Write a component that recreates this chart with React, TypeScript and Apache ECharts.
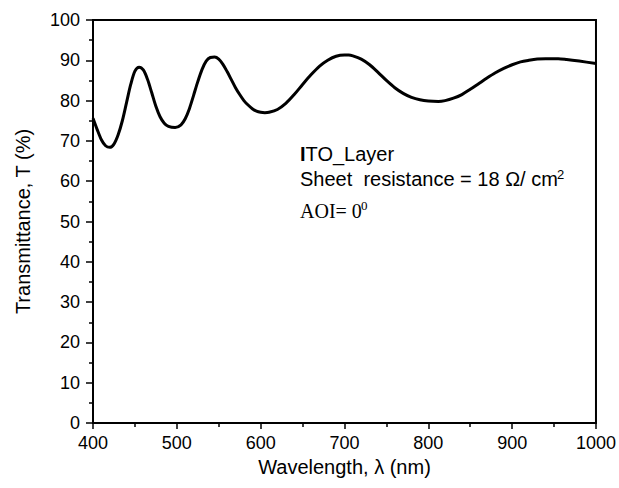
import React, { useEffect, useRef } from "react";
import * as echarts from "echarts";

const wavelengths = [
  400, 405, 410, 415, 420, 425, 430, 435, 440, 445, 450, 455, 460, 465, 470, 475, 480, 485, 490, 498,
  505, 510, 515, 520, 525, 530, 535, 540, 545, 550, 555, 560, 565, 570, 575, 580, 585, 590, 595, 600,
  605, 610, 620, 630, 640, 650, 660, 670, 680, 690, 700, 705, 710, 720, 730, 740, 750, 760, 770, 780,
  790, 800, 812, 820, 830, 840, 850, 860, 870, 880, 890, 900, 910, 920, 930, 940, 955, 965, 980, 1000,
];
const transmittance = [
  75.6, 72.8, 70.3, 68.8, 68.4, 69.2, 71.5, 75.0, 79.5, 84.0, 87.3, 88.3, 87.6, 85.3, 82.0, 78.6, 76.0, 74.4, 73.6, 73.3,
  74.0, 75.5, 78.0, 81.3, 84.7, 87.7, 89.8, 90.7, 90.8, 90.3, 89.0, 87.2, 85.2, 83.2, 81.5, 80.0, 78.9, 78.0, 77.4, 77.1,
  77.0, 77.1, 77.8, 79.3, 81.5, 84.0, 86.4, 88.5, 90.0, 91.0, 91.3, 91.3, 91.1, 90.3, 88.9, 87.0, 85.0, 83.2, 81.8, 80.8,
  80.2, 79.9, 79.8, 80.0, 80.6, 81.5, 82.8, 84.2, 85.6, 86.9, 88.0, 88.9, 89.6, 90.0, 90.3, 90.4, 90.4, 90.2, 89.8, 89.2,
];

const xTitle = "Wavelength, \u03bb (nm)";
const yTitle = "Transmittance, T (%)";

export default function App() {
  const ref = useRef<HTMLDivElement>(null);
  useEffect(() => {
    if (!ref.current) return;
    const chart = echarts.init(ref.current, undefined, { renderer: "svg" });
    const font = "Arial, 'Liberation Sans', sans-serif";
    const serif = "'Times New Roman', 'Liberation Serif', serif";
    chart.setOption({
      animation: false,
      backgroundColor: "#fff",
      grid: {
        left: 93,
        right: 21,
        top: 20,
        bottom: 65,
        show: true,
        borderColor: "#000",
        borderWidth: 2,
      },
      xAxis: {
        type: "value",
        min: 400,
        max: 1000,
        interval: 100,
        name: xTitle,
        nameLocation: "middle",
        nameGap: 33,
        nameTextStyle: { fontFamily: font, fontSize: 20, color: "#000" },
        axisLine: { lineStyle: { color: "#000", width: 2 } },
        axisTick: { show: true, inside: false, length: 6, lineStyle: { color: "#000", width: 1.5 } },
        minorTick: { show: true, splitNumber: 2, length: 4, lineStyle: { color: "#000", width: 1.5 } },
        axisLabel: { fontFamily: font, fontSize: 18, color: "#000", margin: 11, formatter: (v: number) => String(v) },
        splitLine: { show: false },
      },
      yAxis: {
        type: "value",
        min: 0,
        max: 100,
        interval: 10,
        name: yTitle,
        nameLocation: "middle",
        nameGap: 60,
        nameTextStyle: { fontFamily: font, fontSize: 20, color: "#000" },
        axisLine: { lineStyle: { color: "#000", width: 2 } },
        axisTick: { show: true, inside: false, length: 7, lineStyle: { color: "#000", width: 1.5 } },
        minorTick: { show: true, splitNumber: 2, length: 4, lineStyle: { color: "#000", width: 1.5 } },
        axisLabel: { fontFamily: font, fontSize: 18, color: "#000", margin: 13 },
        splitLine: { show: false },
      },
      series: [
        {
          type: "line",
          data: wavelengths.map((w, i) => [w, transmittance[i]]),
          smooth: 0.3,
          showSymbol: false,
          lineStyle: { color: "#000", width: 3 },
        },
      ],
      graphic: [
        {
          type: "text",
          x: 300,
          y: 144,
          style: {
            text: "{b|I}TO_Layer",
            fill: "#000",
            font: "20px " + font,
            rich: { b: { fontWeight: "bold", fontSize: 20, fontFamily: font } },
          },
        },
        {
          type: "text",
          x: 300,
          y: 169,
          style: { text: "Sheet  resistance = 18 \u03a9/ cm", fill: "#000", font: "20px " + font },
        },
        {
          type: "text",
          x: 557,
          y: 168,
          style: { text: "2", fill: "#000", font: "13px " + font },
        },
        {
          type: "text",
          x: 300,
          y: 201,
          style: { text: "AOI= 0", fill: "#000", font: "20px " + serif },
        },
        {
          type: "text",
          x: 361,
          y: 199,
          style: { text: "0", fill: "#000", font: "13px " + serif },
        },
      ],
    });
    return () => chart.dispose();
  }, []);
  return <div ref={ref} style={{ position: "absolute", left: 0, top: 0, width: 619, height: 488 }} />;
}
